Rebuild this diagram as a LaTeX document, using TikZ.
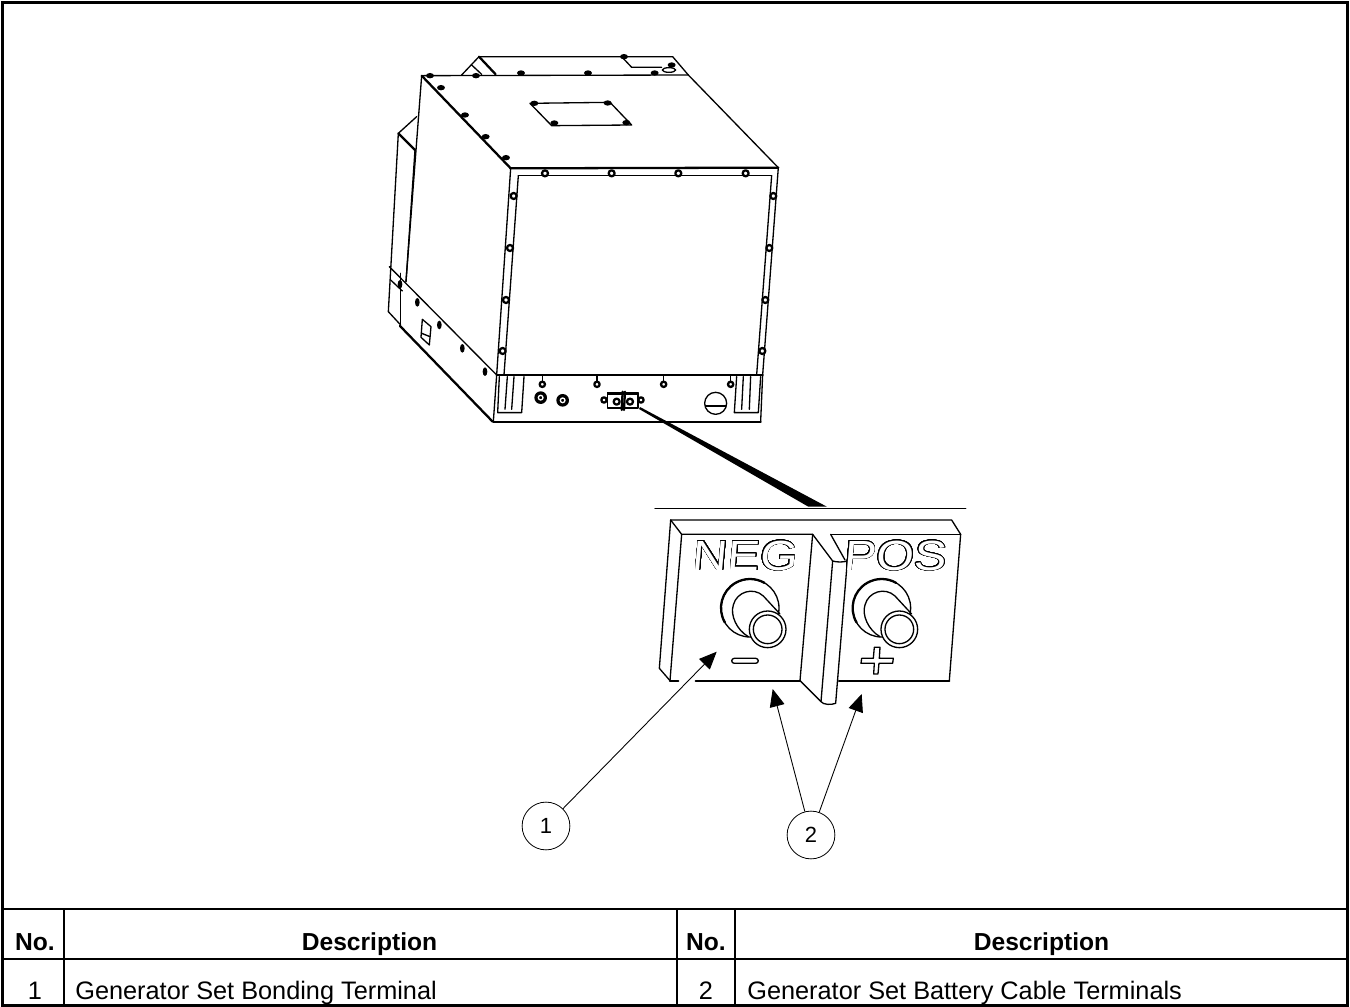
\documentclass[tikz,border=0pt]{standalone}
\usepackage{fontspec}
\setmainfont{Liberation Sans}
\usepackage[copies]{contour}
\contourlength{0.4pt}
\contournumber{32}
\usetikzlibrary{arrows.meta,calc,positioning}
\tikzset{
    unit/.style={line width=0.75pt, line join=round, line cap=round},
    heavy/.style={line width=1.3pt, line join=round, line cap=round},
    frameline/.style={line width=1.7pt},
    headtext/.style={font=\fontsize{14}{16}\selectfont\bfseries, inner sep=0pt, anchor=base},
    celltext/.style={font=\fontsize{14.4}{16}\selectfont, inner sep=0pt, anchor=base},
    callout/.style={draw, circle, line width=0.45pt, minimum size=27.2pt, inner sep=0pt, font=\fontsize{12.5}{14}\selectfont},
    leader/.style={line width=0.5pt, -{Triangle[length=10pt,width=8.5pt]}},
    platetext/.style={font=\fontsize{24}{26}\selectfont, inner sep=0pt, xscale=1.15, xslant=0.08, transform shape}
}
\begin{document}
\begin{tikzpicture}[x=0.02cm, y=-0.02cm]
    \useasboundingbox (0,0) rectangle (1350,1007);

    % Frame and table rules
    \draw[frameline] (2.5,2.5) rectangle (1347.5,1005.5);
    \draw[frameline] (2.5,909) -- (1347.5,909);
    \draw[frameline] (2.5,959) -- (1347.5,959);
    \foreach \x in {64, 677, 735} \draw[frameline] (\x,909) -- (\x,1005.5);

    % Table text
    \node[headtext] (hno1) at (35,950) {No.};
    \node[headtext] (hdesc1) at (369.5,950) {Description};
    \node[headtext] (hno2) at (706,950) {No.};
    \node[headtext] (hdesc2) at (1041.5,950) {Description};
    \node[celltext] (cno1) at (35,999) {1};
    \node[celltext, anchor=base west] (cdesc1) at (75,999) {Generator Set Bonding Terminal};
    \node[celltext] (cno2) at (706,999) {2};
    \node[celltext, anchor=base west] (cdesc2) at (747,999) {Generator Set Battery Cable Terminals};

    % Enclosure, in crop units (3 to the pixel)
    \begin{scope}[shift={(370,40)}, x=0.02cm/3, y=-0.02cm/3]
        % Top face
        \draw[unit] (155,107) -- (955,105) -- (1225,383);
        \draw[heavy] (155,107) -- (422,385);
        \draw[unit] (275,105) -- (327,50) -- (908,50) -- (955,105);
        \draw[heavy] (327,50) -- (377,103);
        \draw[unit] (305,75) -- (335,103);
        \draw[unit] (755,50) -- (785,82) -- (875,82);
        \draw[unit] (897,90) ellipse (20 and 7);
        \draw[unit] (480,190) -- (720,187) -- (785,255) -- (545,257) -- cycle;
        \foreach \x/\y in {180/107, 318/107, 453/99, 654/99, 854/99, 762/50, 905/75, 213/143, 285/225, 347/290, 408/353, 493/190, 713/189, 553/249, 769/248}
            \fill (\x,\y) ellipse (12 and 8);

        % Left face
        \draw[unit] (155,107) -- (108,725);
        \draw[unit] (85,280) -- (55,815) -- (92,855);
        \draw[unit] (85,280) -- (140,230);
        \draw[heavy] (85,280) -- (135,330);
        \draw[unit] (135,330) -- (108,725);
        \draw[unit] (58,680) -- (380,1005);
        \draw[unit] (92,700) -- (92,860);
        \draw[unit] (62,720) -- (97,753);
        \draw[heavy] (90,858) -- (368,1145);
        \draw[unit] (157,838) -- (183,860) -- (178,915) -- (153,892) -- cycle;
        \draw[unit] (155,880) -- (180,890);
        \foreach \x/\y in {90/733, 142/787, 208/855, 277/925, 345/995}
            \fill (\x,\y) ellipse (7 and 13);

        % Front panel
        \draw[heavy] (422,385) -- (1225,383);
        \draw[unit] (445,407) -- (1205,407);
        \draw[heavy] (380,1005) -- (1178,1005);
        \draw[unit] (422,385) -- (380,1005);
        \draw[unit] (445,407) -- (402,1005);
        \draw[unit] (1225,383) -- (1178,1005);
        \draw[unit] (1205,407) -- (1160,1005);
        \foreach \x/\y in {525/400, 725/400, 925/400, 1127/400, 431/468, 420/624, 408/780, 398/933, 1210/468, 1198/624, 1186/780, 1177/933}
            \draw[heavy, fill=white] (\x,\y) circle (9);

        % Base
        \draw[unit] (380,1005) -- (370,1145);
        \draw[heavy] (370,1145) -- (1172,1145);
        \draw[unit] (1172,1145) -- (1178,1005);
        \draw[unit] (388,1010) -- (383,1118) -- (455,1118) -- (462,1010);
        \draw[unit] (412,1010) -- (405,1108);
        \draw[unit] (432,1010) -- (425,1108);
        \draw[unit] (1100,1010) -- (1093,1118) -- (1165,1118) -- (1172,1010);
        \draw[unit] (1120,1010) -- (1115,1108);
        \draw[unit] (1142,1010) -- (1138,1108);
        \foreach \x in {517, 681, 881, 1082} {
            \draw[unit] (\x,1008) -- (\x,1025);
            \draw[heavy, fill=white] (\x,1033) circle (8);
        }
        \fill (512,1073) circle (19);
        \fill (578,1081) circle (19);
        \draw[white, unit] (512,1073) circle (7);
        \draw[white, unit] (578,1081) circle (7);
        \draw[unit, fill=white] (1037,1090) circle (33);
        \draw[unit] (1007,1098) -- (1068,1098);

        % Terminal block
        \draw[heavy, fill=white] (702,1080) circle (8);
        \draw[heavy, fill=white] (813,1080) circle (8);
        \draw[unit, fill=white] (712,1057) rectangle (804,1104);
        \fill (712,1055) rectangle (804,1066);
        \draw[heavy] (758,1055) -- (755,1110);
        \draw[heavy] (765,1055) -- (762,1110);
        \draw[heavy] (740,1085) circle (9);
        \draw[heavy] (780,1085) circle (9);
    \end{scope}

    % Pointer to the detail
    \fill (640,407) -- (826.5,506.5) -- (808,506.5) -- (639,409) -- cycle;
    \draw[unit] (655,508.7) -- (965.7,508.7);

    % Detail view, in crop units (3 to the pixel)
    \begin{scope}[shift={(640,490)}, x=0.02cm/3, y=-0.02cm/3]
        % Plates
        \draw[unit] (92,90) -- (935,90) -- (962,133) -- (928,572);
        \draw[unit] (92,90) -- (125,133) -- (518,133) -- (480,572);
        \draw[unit] (92,90) -- (58,535) -- (90,572);
        \draw[unit] (125,133) -- (90,572);
        \draw[heavy] (90,572) -- (115,572);
        \draw[heavy] (167,572) -- (480,572);
        \draw[unit] (518,133) -- (578,213);
        \draw[unit] (480,572) -- (543,635);
        \draw[unit] (578,213) -- (543,635) .. controls (550,645) and (575,645) .. (587,640) -- (622,213);
        \draw[unit] (578,213) .. controls (590,217) and (610,217) .. (622,213);
        \draw[unit] (572,133) -- (962,133);
        \draw[unit] (572,133) -- (615,210);
        \draw[heavy] (597,572) -- (928,572);

        % Studs
        \foreach \x in {0, 395} {
            \begin{scope}[shift={(\x,0)}]
                \draw[unit, fill=white] (330,354) circle (87);
                \draw[heavy] (330,354) ++(150:87) arc (150:300:87);
                \draw[unit] (325,440) .. controls (290,420) and (270,375) .. (280,345) .. controls (290,305) and (340,290) .. (370,318) -- (420,372);
                \draw[unit, fill=white] (383,418) circle (55);
                \draw[unit] (383,418) circle (43);
            \end{scope}
        }

        % Polarity marks
        \draw[unit, rounded corners=1.5pt] (275,505) rectangle (355,520);
        \draw[unit] (665,505) -- (700,505) -- (703,472) -- (720,472) -- (718,505) -- (760,505) -- (758,520) -- (717,520) -- (714,552) -- (701,552) -- (703,520) -- (663,520) -- cycle;

        % Lettering
        \begin{scope}[shift={(317,198)}]
            \node[platetext] (neglabel) at (0,0) {\contour{black}{\textcolor{white}{NEG}}};
        \end{scope}
        \begin{scope}[shift={(767,198)}]
            \node[platetext] (poslabel) at (0,0) {\contour{black}{\textcolor{white}{POS}}};
        \end{scope}
    \end{scope}

    % Callouts
    \node[callout] (bondingnum) at (546,826) {1};
    \node[callout] (cablenum) at (811,835) {2};
    \coordinate (bondingtip) at (716.7,651.7);
    \coordinate (negtip) at (772.7,689);
    \coordinate (postip) at (861.7,694);
    \draw[leader] (bondingnum) -- (bondingtip);
    \draw[leader] (cablenum) -- (negtip);
    \draw[leader] (cablenum) -- (postip);
\end{tikzpicture}
\end{document}
